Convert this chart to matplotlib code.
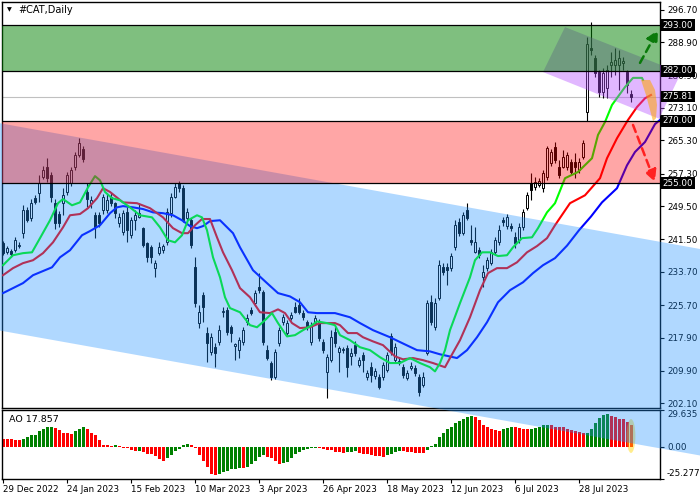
import matplotlib.pyplot as plt
from matplotlib.patches import Polygon, Ellipse

# daily candles, bar 0 = 29 Dec 2022
opens = [240.6, 238.4, 238.7, 238.9, 240.0, 243.0, 248.5, 246.6, 251.4, 252.6,
         256.4, 258.9, 256.9, 250.2, 247.6, 250.2, 252.9, 255.0, 258.9, 261.8,
         263.2, 252.9, 250.2, 247.3, 247.3, 248.5, 248.5, 251.7, 250.2, 245.4,
         243.2, 248.0, 242.5, 246.1, 246.9, 244.2, 240.6, 239.6, 234.6, 238.2,
         238.9, 240.8, 247.8, 251.7, 255.0, 253.8, 246.6, 246.1, 234.8, 221.4,
         228.1, 219.0, 214.4, 215.6, 216.8, 224.0, 224.5, 220.4, 215.8, 214.9,
         216.8, 221.6, 224.5, 226.2, 230.0, 228.8, 214.9, 211.8, 208.4, 216.6,
         221.6, 219.0, 222.6, 225.2, 225.7, 223.8, 221.6, 216.8, 221.4, 221.6,
         216.8, 209.6, 212.5, 219.2, 214.4, 214.9, 215.4, 213.4, 216.1, 211.3,
         213.7, 208.4, 210.8, 208.7, 208.4, 208.4, 210.1, 218.2, 212.5, 212.0,
         210.8, 208.2, 210.6, 210.6, 208.4, 206.5, 214.2, 226.4, 220.4, 227.4,
         234.8, 234.8, 234.6, 239.6, 245.6, 243.0, 248.5, 241.3, 238.4, 238.9,
         232.4, 234.6, 235.8, 238.4, 240.8, 246.1, 244.7, 244.7, 242.0, 241.3,
         244.4, 249.0, 255.0, 254.0, 254.5, 253.8, 256.4, 259.8, 263.7, 258.9,
         258.9, 258.9, 260.1, 260.1, 258.1, 261.3, 272.1, 287.5, 285.1, 281.7,
         276.9, 277.9, 283.4, 283.4, 283.4, 283.9, 281.7, 276.4]
highs = [241.1, 240.0, 239.2, 242.0, 240.8, 249.7, 249.2, 251.2, 252.1, 256.9,
         259.1, 261.1, 257.7, 251.2, 248.3, 253.8, 257.7, 259.0, 262.5, 265.8,
         264.0, 255.0, 252.0, 248.0, 248.0, 252.5, 252.6, 252.6, 250.4, 247.8,
         248.5, 249.2, 247.0, 248.5, 250.2, 244.4, 240.8, 240.1, 236.5, 240.8,
         240.4, 249.0, 252.6, 255.0, 255.5, 254.5, 249.0, 246.6, 237.2, 225.7,
         228.8, 220.4, 219.0, 216.6, 220.9, 225.2, 225.2, 221.0, 216.6, 218.0,
         220.4, 223.5, 225.2, 229.3, 233.4, 229.3, 216.1, 212.3, 215.1, 220.4,
         223.5, 222.1, 224.0, 226.4, 227.4, 224.5, 222.1, 221.6, 223.3, 222.3,
         217.5, 214.0, 219.7, 220.4, 216.0, 215.6, 216.1, 215.4, 217.0, 213.2,
         214.4, 210.1, 212.0, 210.6, 209.2, 212.0, 214.4, 219.0, 216.6, 213.0,
         211.6, 210.1, 212.0, 211.3, 209.2, 209.6, 227.0, 228.1, 227.4, 236.5,
         235.8, 235.8, 238.2, 246.1, 246.6, 248.0, 250.2, 244.9, 244.4, 239.6,
         235.3, 237.2, 239.2, 242.0, 244.9, 246.9, 247.5, 245.4, 243.2, 245.4,
         248.8, 253.0, 257.4, 256.4, 256.2, 258.1, 264.0, 263.2, 264.9, 260.6,
         263.0, 262.5, 260.8, 262.2, 261.1, 265.4, 290.1, 293.7, 285.8, 282.2,
         282.7, 283.4, 286.5, 287.5, 287.0, 285.3, 282.2, 277.4]
lows = [237.7, 237.9, 237.2, 238.4, 239.4, 241.8, 245.6, 245.9, 249.9, 250.5,
        256.0, 255.2, 250.6, 244.1, 244.6, 247.3, 252.1, 254.3, 258.1, 261.3,
        260.1, 249.3, 249.0, 241.8, 244.6, 247.5, 247.8, 249.5, 246.6, 244.6,
        242.5, 240.8, 241.8, 243.7, 246.6, 239.6, 236.0, 235.8, 232.4, 237.7,
        238.2, 240.1, 247.0, 251.4, 253.0, 245.6, 245.9, 239.4, 225.2, 220.2,
        221.6, 212.0, 213.7, 210.8, 216.1, 222.8, 218.5, 216.8, 212.5, 213.0,
        216.1, 221.0, 223.3, 225.5, 228.6, 216.1, 212.5, 207.7, 207.9, 215.8,
        221.0, 218.5, 222.1, 223.8, 223.5, 222.1, 219.7, 216.1, 220.9, 217.0,
        214.1, 203.3, 212.0, 215.6, 209.6, 214.1, 208.4, 211.3, 213.4, 210.8,
        209.6, 207.7, 207.2, 208.0, 205.5, 207.7, 209.6, 213.7, 211.8, 211.3,
        208.2, 207.7, 210.1, 208.7, 203.8, 206.0, 213.7, 220.9, 219.7, 227.0,
        232.9, 230.5, 233.8, 238.9, 242.3, 242.5, 246.1, 240.1, 238.2, 237.0,
        230.0, 233.8, 235.3, 237.7, 240.1, 244.7, 244.0, 243.5, 239.4, 240.6,
        243.7, 248.5, 250.9, 253.3, 254.0, 253.0, 255.7, 259.1, 259.8, 256.2,
        258.6, 258.1, 256.9, 256.2, 257.4, 260.8, 269.9, 285.8, 280.6, 275.7,
        275.5, 275.5, 280.5, 281.0, 277.4, 282.2, 276.7, 274.5]
closes = [238.2, 239.4, 237.9, 241.3, 240.2, 248.5, 246.1, 250.2, 250.4, 255.0,
          258.1, 256.2, 251.7, 245.4, 245.4, 252.1, 256.9, 258.1, 261.8, 264.6,
          260.8, 251.3, 250.9, 244.4, 245.4, 251.7, 250.9, 250.2, 247.8, 246.9,
          247.8, 243.7, 246.1, 247.3, 247.8, 240.1, 237.2, 237.2, 235.8, 239.6,
          239.9, 248.0, 251.7, 254.0, 253.8, 246.1, 248.0, 240.1, 226.2, 224.0,
          225.2, 216.6, 218.0, 214.1, 219.7, 224.2, 219.2, 218.9, 216.3, 217.3,
          219.7, 222.6, 223.8, 228.6, 229.3, 216.8, 213.0, 208.4, 214.4, 219.7,
          222.8, 221.4, 223.3, 224.0, 224.0, 222.8, 220.4, 220.9, 222.6, 217.8,
          214.9, 213.2, 218.0, 216.6, 215.4, 215.1, 210.8, 214.1, 214.1, 212.5,
          212.5, 209.3, 208.9, 209.9, 206.0, 211.3, 213.7, 214.4, 215.6, 212.2,
          208.9, 209.3, 211.1, 209.3, 204.8, 208.4, 226.2, 221.6, 226.2, 235.3,
          233.6, 234.1, 237.5, 244.9, 243.0, 247.3, 246.6, 240.8, 240.8, 237.7,
          233.6, 236.5, 238.4, 241.3, 243.7, 245.6, 246.9, 244.2, 240.6, 244.4,
          248.0, 252.1, 253.3, 255.2, 255.5, 257.4, 263.4, 262.5, 260.6, 257.0,
          261.3, 261.8, 257.7, 258.9, 260.1, 264.6, 288.4, 287.0, 281.5, 276.9,
          281.5, 282.2, 284.1, 284.6, 285.1, 284.4, 278.6, 275.81]

# Alligator lines, read at sample bars
jaw_x = [0, 2.5, 5, 7.5, 10, 12.25, 14.25, 16.75, 19.75, 21.75, 24.25, 26.75, 28.5, 30,
         32.5, 35, 37.5, 40, 42.5, 44.75, 46.75, 48.5, 50, 51.75, 54.25, 57.5, 59.25,
         62.5, 66, 68.75, 71.75, 74.25, 76.25, 78.5, 83, 86.75, 89.25, 92.5, 96.75,
         100, 103.5, 106.75, 109.25, 113.5, 116, 118.5, 121, 123.75, 126.75, 130,
         132.5, 135, 138, 141, 144, 147, 149.75, 153.5, 156, 158, 160.5, 163, 165]
jaw_y = [228.6, 229.8, 231.0, 232.9, 233.9, 234.8, 237.2, 238.9, 242.5, 243.5, 244.9,
         247.8, 249.2, 249.5, 249.2, 248.8, 248.0, 247.8, 247.3, 246.1, 244.7, 244.2,
         244.7, 245.9, 246.1, 243.0, 239.6, 234.1, 231.0, 228.6, 227.8, 226.4, 224.0,
         223.8, 223.8, 222.8, 221.4, 219.7, 218.0, 216.5, 214.9, 214.6, 213.9, 213.0,
         214.9, 218.0, 221.6, 226.4, 229.3, 231.2, 233.4, 235.3, 237.0, 240.0, 243.7,
         247.0, 250.4, 253.8, 259.3, 262.5, 264.9, 269.2, 270.8]
teeth_x = [0, 2.5, 5, 7.5, 10, 12.5, 15, 16.75, 19.25, 21.25, 23.5, 25, 26.75, 30,
           33.5, 36.75, 40, 42.5, 44.75, 46.25, 48, 49.75, 51.75, 53.5, 55, 57.25,
           59.25, 61.75, 64.25, 66.75, 68.75, 70.5, 72.25, 74.25, 76.75, 79.25, 83,
           84.25, 86.25, 88.5, 90, 92.5, 95, 98, 100, 102.5, 105, 107.5, 110.5, 111.75,
           114.25, 116.75, 119.25, 121.25, 123.5, 126, 128.5, 131, 133.5, 136, 138,
           141.75, 145.5, 149.25, 151, 153.5, 156.25, 158.5, 160.5, 162]
teeth_y = [232.9, 234.6, 235.8, 236.5, 238.2, 240.8, 244.4, 247.3, 247.6, 249.0,
           251.4, 253.8, 252.9, 250.4, 250.2, 249.0, 246.8, 244.2, 243.0, 243.0,
           244.9, 246.4, 246.4, 242.0, 238.4, 234.1, 229.8, 227.6, 224.0, 223.8,
           224.7, 223.8, 221.4, 220.2, 220.4, 221.4, 221.4, 220.9, 219.0, 219.0,
           218.0, 217.0, 216.1, 213.4, 212.7, 213.0, 212.5, 211.8, 210.8, 213.0,
           217.3, 222.8, 229.3, 233.4, 234.6, 234.6, 236.0, 238.4, 239.9, 241.8,
           244.9, 250.2, 252.1, 256.2, 261.0, 265.8, 270.2, 273.3, 275.4, 276.2]
lips_x = [0, 2.5, 5, 7.25, 9.25, 11.75, 13.75, 15, 17.25, 19.25, 21.25, 23, 24.25,
          25.5, 27.25, 29.25, 31.75, 34.25, 37.25, 39.25, 41.25, 43, 44.75, 46.25,
          48.5, 49.75, 51, 52.5, 54.25, 55.5, 56.75, 59.25, 61.75, 63.5, 65.5, 67.25,
          68.75, 71, 73, 75, 77.25, 78.5, 81, 83, 84.25, 86.75, 89.25, 91.75, 94.25,
          96.75, 99.25, 101.75, 104.25, 106.75, 108, 109.25, 110.5, 111.75, 114.25,
          116.75, 118, 119.75, 121.75, 123.75, 126, 127.5, 129.75, 132.25, 133.75,
          136, 138, 140.5, 143.75, 147.25, 148.75, 150.5, 152.25, 155.5, 157.5, 159.75, 160]
lips_y = [235.3, 237.7, 238.2, 238.4, 241.8, 246.1, 250.2, 251.2, 249.7, 250.4,
          254.0, 256.7, 255.7, 252.9, 251.4, 250.9, 249.2, 247.3, 246.8, 244.4,
          241.3, 240.8, 242.5, 246.1, 247.3, 246.8, 243.7, 237.2, 232.4, 227.6,
          225.0, 224.0, 220.9, 220.4, 222.1, 223.8, 221.4, 218.2, 218.5, 219.7,
          220.9, 221.8, 221.4, 220.9, 218.5, 217.3, 215.6, 214.9, 213.2, 211.8,
          211.8, 213.0, 211.8, 210.8, 209.8, 211.8, 214.9, 219.7, 226.2, 232.4,
          236.5, 238.4, 238.4, 237.5, 237.7, 239.6, 241.8, 242.0, 244.2, 248.0,
          250.2, 256.2, 257.7, 261.0, 266.6, 269.7, 273.8, 278.1, 280.3, 280.3, 279.8]

# Awesome Oscillator
ao = [6.2, 6.1, 6.0, 5.9, 5.5, 6.0, 7.6, 9.2, 9.8, 12.5,
      14.1, 15.7, 15.9, 15.3, 13.6, 11.4, 10.9, 10.4, 13.1, 14.7,
      15.7, 14.1, 11.4, 9.2, 5.5, 1.6, 1.4, 1.1, 1.2, 0.6,
      -0.6, -1.1, -2.2, -3.3, -2.9, -4.3, -5.5, -6.0, -7.6, -9.8,
      -10.9, -8.7, -6.8, -3.3, -1.4, 1.6, 2.7, 1.6, -0.6, -6.8,
      -10.9, -15.7, -21.8, -22.3, -21.8, -20.2, -19.0, -18.0, -17.4, -16.9,
      -17.1, -16.3, -13.6, -11.4, -8.2, -6.8, -8.2, -9.2, -11.4, -13.6,
      -13.1, -12.2, -8.7, -5.5, -4.1, -2.7, -1.4, -1.1, -1.0, -1.1,
      -1.4, -2.7, -2.8, -4.1, -4.2, -4.5, -4.1, -3.8, -3.6, -4.5,
      -5.3, -5.7, -6.5, -7.3, -7.6, -7.8, -6.8, -5.5, -4.1, -3.3,
      -3.4, -4.1, -4.2, -4.9, -5.0, -5.1, -2.7, 0.6, 2.7, 8.2,
      11.4, 14.7, 15.7, 19.0, 21.2, 22.8, 23.9, 24.5, 23.9, 21.8,
      18.0, 15.7, 14.1, 13.6, 13.1, 14.1, 15.3, 16.3, 15.7, 15.3,
      14.7, 14.1, 14.7, 15.3, 16.3, 17.4, 17.5, 17.3, 16.3, 16.2,
      15.7, 14.7, 13.6, 12.5, 12.0, 10.9, 11.4, 14.1, 19.0, 23.4,
      25.5, 26.7, 25.1, 23.9, 22.8, 22.3, 20.4, 17.857]

date_idx = [0, 16, 32, 48, 64, 80, 96, 112, 128, 144]
date_labels = ['29 Dec 2022', '24 Jan 2023', '15 Feb 2023', '10 Mar 2023', '3 Apr 2023',
               '26 Apr 2023', '18 May 2023', '12 Jun 2023', '6 Jul 2023', '28 Jul 2023']
price_ticks = [296.70, 288.90, 280.90, 273.10, 265.30, 257.30, 249.50, 241.50,
               233.70, 225.70, 217.90, 209.90, 202.10]
levels = [293.0, 282.0, 270.0, 255.0]
last_price = 275.81

plt.rcParams['font.family'] = ['DejaVu Sans']
fs = 6.3

fig = plt.figure(figsize=(7, 5), dpi=100)
ax = fig.add_axes([2 / 700, 1 - 408.3 / 500, 658 / 700, 406.3 / 500])
ax_ao = fig.add_axes([2 / 700, 1 - 478.5 / 500, 658 / 700, 68.5 / 500], sharex=ax)
ax.set_zorder(2)
ax.patch.set_alpha(0)
ax_ao.set_zorder(1)

xs = list(range(len(opens)))

# candles
ax.vlines(xs, lows, highs, color='black', lw=0.8, zorder=2)
bottoms = [min(o, c) for o, c in zip(opens, closes)]
heights = [abs(c - o) for o, c in zip(opens, closes)]
fills = ['white' if c >= o else 'black' for o, c in zip(opens, closes)]
ax.bar(xs, heights, bottom=bottoms, width=0.68, color=fills, edgecolor='black',
       linewidth=0.7, zorder=3)

ax.axhline(last_price, color='#c0c0c0', lw=0.8, zorder=1.5)

# alligator
ax.plot(jaw_x, jaw_y, color='#0000ff', lw=1.5, zorder=4)
ax.plot(teeth_x, teeth_y, color='#ff0000', lw=1.5, zorder=4)
ax.plot(lips_x, lips_y, color='#00ff00', lw=1.5, zorder=4)

# zones drawn on top
band = Polygon([(-0.75, 269.4), (174.25, 239.2), (174.25, 189.6), (-0.75, 219.6)],
               closed=True, facecolor='#1e90ff', alpha=0.35, edgecolor='none',
               zorder=5, clip_on=False)
ax.add_patch(band)
ax.axhspan(levels[3], levels[2], color='#ff0000', alpha=0.35, lw=0, zorder=6)
purple = Polygon([(140.5, 292.5), (169.5, 281.5), (164, 270.5), (135, 281.7)],
                 closed=True, facecolor='#b44dff', alpha=0.4, edgecolor='none',
                 zorder=6.2, clip_on=False)
ax.add_patch(purple)
ax.axhspan(levels[1], levels[0], color='#008000', alpha=0.5, lw=0, zorder=6.5)
for lv in levels:
    ax.axhline(lv, color='black', lw=0.9, zorder=7)

# forecast marks
ax.annotate('', xy=(163.75, 291.8), xytext=(159.25, 283.9),
            arrowprops=dict(arrowstyle='-|>,head_length=0.7,head_width=0.35',
                            color='#0a7a0a', lw=1.8, linestyle=(0, (3, 2)),
                            shrinkA=0, shrinkB=0),
            annotation_clip=False, zorder=9)
ax.annotate('', xy=(163, 255.3), xytext=(157.5, 269.0),
            arrowprops=dict(arrowstyle='-|>,head_length=0.7,head_width=0.35',
                            color='#ff2020', lw=1.8, linestyle=(0, (3, 2)),
                            shrinkA=0, shrinkB=0),
            annotation_clip=False, zorder=9)
banana = Polygon([(159.5, 279.8), (160.75, 276.2), (161.75, 272.6), (162.5, 269.9),
                  (163.25, 270.6), (163.5, 273.8), (163, 277.4), (161.75, 279.8)],
                 closed=True, facecolor='#ffa500', alpha=0.55, edgecolor='none',
                 zorder=8, clip_on=False)
ax.add_patch(banana)

ax.set_xlim(-0.25, 164.25)
ax.set_ylim(200.93, 298.53)
ax.yaxis.tick_right()
ax.set_yticks(price_ticks)
ax.set_yticklabels(['%.2f' % t for t in price_ticks])
ax.tick_params(axis='y', length=3, width=0.8, pad=2, labelsize=fs, direction='out')
ax.tick_params(axis='x', bottom=False, labelbottom=False)

for lv in levels + [last_price]:
    ax.text(1.004, lv, '%.2f' % lv, transform=ax.get_yaxis_transform(), ha='left',
            va='center', color='white', fontsize=fs, zorder=12, clip_on=False,
            bbox=dict(facecolor='black', edgecolor='none', pad=1.0))

ax.text(0.008, 0.980, '\u25bc', transform=ax.transAxes, fontsize=4.5, va='center')
ax.text(0.024, 0.980, '#CAT,Daily', transform=ax.transAxes, fontsize=7, va='center')

# AO panel
ao_colors = ['#008000' if i == 0 or ao[i] > ao[i - 1] else '#ff0000' for i in range(len(ao))]
ao_colors[0] = '#ff0000'
ax_ao.bar(xs, ao, width=0.75, color=ao_colors, zorder=2)
ax_ao.add_patch(Ellipse((157, 8.8), 2.2, 27.2, facecolor='#ffd700', alpha=0.45,
                        edgecolor='none', zorder=5, clip_on=False))
ax_ao.set_ylim(-25.277, 29.635)
ax_ao.yaxis.tick_right()
ax_ao.set_yticks([29.635, 0.0, -25.277])
ax_ao.set_yticklabels(['29.635', '0.00', '-25.277'])
ylabs = ax_ao.get_yticklabels()
ylabs[0].set_va('top')
ylabs[2].set_va('bottom')
ax_ao.tick_params(axis='y', length=3, width=0.8, pad=2, labelsize=fs, direction='out')
ax_ao.set_xticks(date_idx)
ax_ao.set_xticklabels(date_labels, ha='left')
ax_ao.tick_params(axis='x', length=3, width=0.8, pad=2, labelsize=fs, direction='out')
ax_ao.text(0.01, 0.86, 'AO 17.857', transform=ax_ao.transAxes, fontsize=fs + 0.5, va='center')

for a in (ax, ax_ao):
    for s in a.spines.values():
        s.set_color('black')
        s.set_linewidth(1.0)

fig.savefig('out.png', dpi=100)
